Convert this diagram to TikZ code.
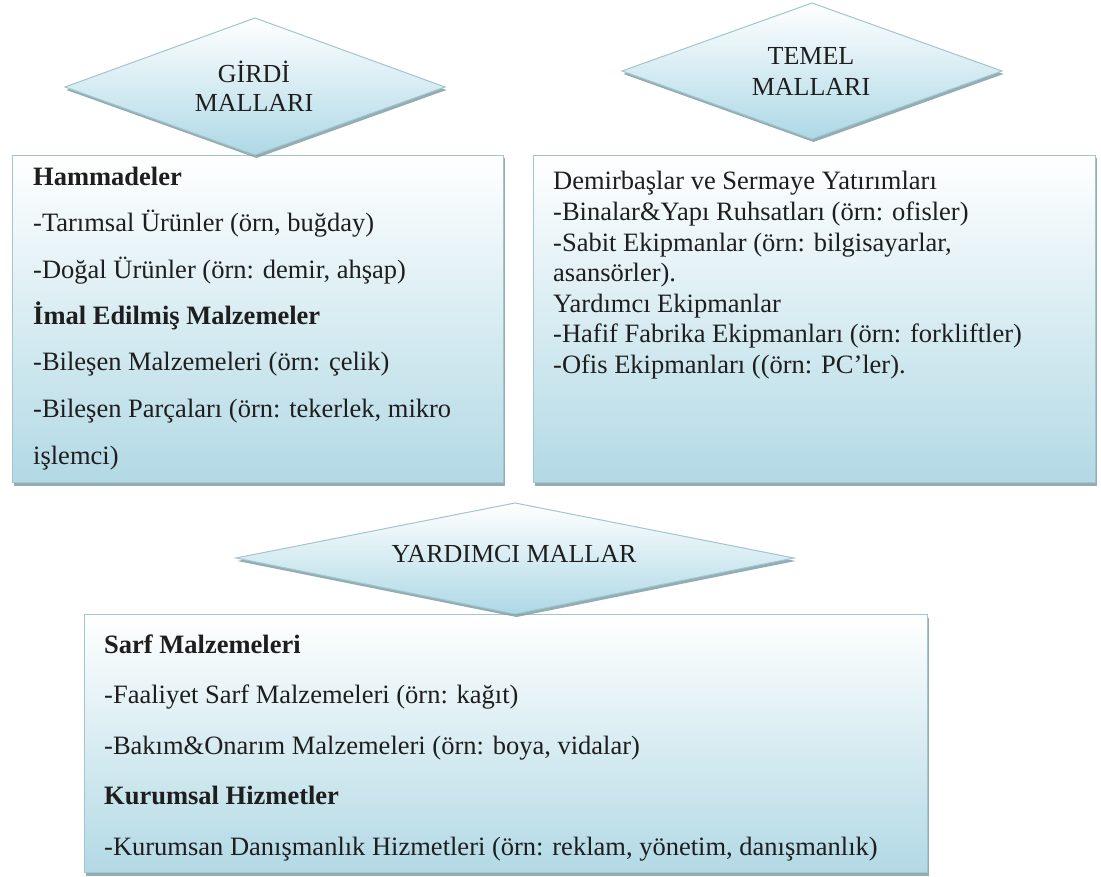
\documentclass[tikz,border=0pt]{standalone}
\usepackage{fontspec}
\setmainfont{Liberation Serif}
\usetikzlibrary{shadows}
\definecolor{paleblue}{HTML}{B2D9E5}
\definecolor{kiteblue}{HTML}{ADD8E6}
\definecolor{edgeblue}{HTML}{A3C5CE}
\definecolor{shadeteal}{HTML}{7F9FA6}
\definecolor{inkgray}{HTML}{1E1E1E}
\newcommand\bodyfont{\fontsize{26.5}{30}\selectfont}
\newcommand\headfont{\fontsize{26}{30}\selectfont}
\tikzset{
  boxshadow/.style={drop shadow={shadow xshift=1.5pt, shadow yshift=-3pt, fill=shadeteal, opacity=0.85}},
  panel/.style={rectangle, draw=edgeblue, line width=1pt, top color=white, bottom color=paleblue,
    inner sep=0pt, anchor=north west, boxshadow},
  kite/.style={draw=edgeblue, line width=1pt, top color=white, bottom color=kiteblue, boxshadow},
  label/.style={anchor=base, inner sep=0pt, font=\headfont, text=inkgray},
  txt/.style={anchor=base west, inner sep=0pt, font=\bodyfont, text=inkgray},
  strong/.style={txt, font=\bodyfont\bfseries},
}
\begin{document}
\begin{tikzpicture}[x=1pt,y=-1pt]
\fill[white] (0,0) rectangle (1101,877);
\useasboundingbox (0,0) rectangle (1101,877);

% content boxes
\node[panel, minimum width=491pt, minimum height=327pt] (inputbox) at (12,155) {};
\node[panel, minimum width=562pt, minimum height=327pt] (basebox) at (533,155) {};
\node[panel, minimum width=843pt, minimum height=258pt] (supportbox) at (84,614) {};

% category headings
\path[kite] (65,87) -- (255,18) -- (445,87) -- (255,155) -- cycle;
\node[label] (inputA) at (254,83) {GİRDİ};
\node[label] (inputB) at (254,112) {MALLARI};
\path[kite] (622,71) -- (812,3) -- (1002,71) -- (812,139) -- cycle;
\node[label] (baseA) at (811,65) {TEMEL};
\node[label] (baseB) at (811,96) {MALLARI};
\path[kite] (236,558) -- (515,503) -- (794,558) -- (515,614) -- cycle;
\node[label] (supportA) at (514,562) {YARDIMCI MALLAR};

% input goods
\node[strong] (i1) at (33,186) {Hammadeler};
\node[txt] (i2) at (33,232) {-Tarımsal Ürünler (örn, buğday)};
\node[txt] (i3) at (33,278.5) {-Doğal Ürünler (örn: demir, ahşap)};
\node[strong] (i4) at (33,325) {İmal Edilmiş Malzemeler};
\node[txt] (i5) at (33,371) {-Bileşen Malzemeleri (örn: çelik)};
\node[txt] (i6) at (33,417.5) {-Bileşen Parçaları (örn: tekerlek, mikro};
\node[txt] (i7) at (33,464) {işlemci)};

% capital goods
\node[txt] (b1) at (553,190) {Demirbaşlar ve Sermaye Yatırımları};
\node[txt] (b2) at (553,220.6) {-Binalar\&Yapı Ruhsatları (örn: ofisler)};
\node[txt] (b3) at (553,251.2) {-Sabit Ekipmanlar (örn: bilgisayarlar,};
\node[txt] (b4) at (553,281.8) {asansörler).};
\node[txt] (b5) at (553,312.4) {Yardımcı Ekipmanlar};
\node[txt] (b6) at (553,343) {-Hafif Fabrika Ekipmanları (örn: forkliftler)};
\node[txt] (b7) at (553,373.6) {-Ofis Ekipmanları ((örn: PC’ler).};

% supporting goods
\node[strong] (s1) at (104,653) {Sarf Malzemeleri};
\node[txt] (s2) at (104,703.5) {-Faaliyet Sarf Malzemeleri (örn: kağıt)};
\node[txt] (s3) at (104,754) {-Bakım\&Onarım Malzemeleri (örn: boya, vidalar)};
\node[strong] (s4) at (104,804.5) {Kurumsal Hizmetler};
\node[txt] (s5) at (104,855) {-Kurumsan Danışmanlık Hizmetleri (örn: reklam, yönetim, danışmanlık)};
\end{tikzpicture}
\end{document}
